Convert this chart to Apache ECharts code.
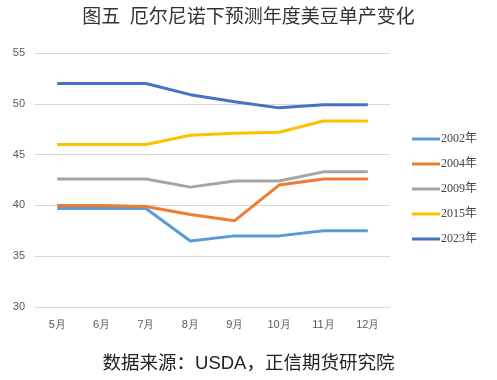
<!DOCTYPE html>
<html><head><meta charset="utf-8">
<script src="https://cdn.jsdelivr.net/npm/echarts@6/dist/echarts.min.js"></script>
<style>html,body{margin:0;padding:0;background:#fff}#c{width:497px;height:380px}</style>
</head><body><div id="c"></div>
<script>
const categories = ['5月','6月','7月','8月','9月','10月','11月','12月'];
const s2002 = [39.7, 39.7, 39.7, 36.5, 37.0, 37.0, 37.5, 37.5];
const s2004 = [40.0, 40.0, 39.9, 39.1, 38.5, 42.0, 42.6, 42.6];
const s2009 = [42.6, 42.6, 42.6, 41.8, 42.4, 42.4, 43.3, 43.3];
const s2015 = [46.0, 46.0, 46.0, 46.9, 47.1, 47.2, 48.3, 48.3];
const s2023 = [52.0, 52.0, 52.0, 50.9, 50.2, 49.6, 49.9, 49.9];
const seriesNames = ['2002年','2004年','2009年','2015年','2023年'];
const seriesData = [s2002, s2004, s2009, s2015, s2023];
const colors = ['#5B9BD5','#ED7D31','#A5A5A5','#FFC000','#4472C4'];
const chart = echarts.init(document.getElementById('c'));
chart.setOption({
  animation: false,
  color: colors,
  title: [{
    text: '图五  厄尔尼诺下预测年度美豆单产变化',
    left: 'center', top: 4,
    textStyle: {fontFamily: 'Liberation Serif, Noto Sans CJK SC', fontSize: 19, fontWeight: 'normal', color: '#333'}
  },{
    text: '数据来源：USDA，正信期货研究院',
    left: 'center', top: 350,
    textStyle: {fontFamily: 'Liberation Sans, Noto Sans CJK SC', fontSize: 18.5, fontWeight: 'normal', color: '#222'}
  }],
  legend: {
    orient: 'vertical', left: 412, top: 133, itemGap: 13, padding: 0,
    itemWidth: 28, itemHeight: 3, icon: 'rect',
    textStyle: {fontFamily: 'Liberation Serif, Noto Sans CJK SC', fontSize: 12, color: '#444', padding: [0,0,0,-4]},
    data: seriesNames
  },
  grid: {left: 35, right: 107, top: 53, bottom: 73},
  xAxis: {
    type: 'category', data: categories, boundaryGap: true,
    axisLine: {show: false}, axisTick: {show: false},
    axisLabel: {color: '#595959', fontSize: 11, margin: 12}
  },
  yAxis: {
    type: 'value', min: 30, max: 55, interval: 5,
    axisLine: {show: false}, axisTick: {show: false},
    axisLabel: {color: '#595959', fontSize: 11, margin: 10},
    splitLine: {lineStyle: {color: '#d9d9d9', width: 1}}
  },
  series: seriesNames.map((n, i) => ({
    name: n, type: 'line', data: seriesData[i], showSymbol: false, symbol: 'none',
    lineStyle: {width: 3, color: colors[i]}, itemStyle: {color: colors[i]}
  }))
});
</script></body></html>
